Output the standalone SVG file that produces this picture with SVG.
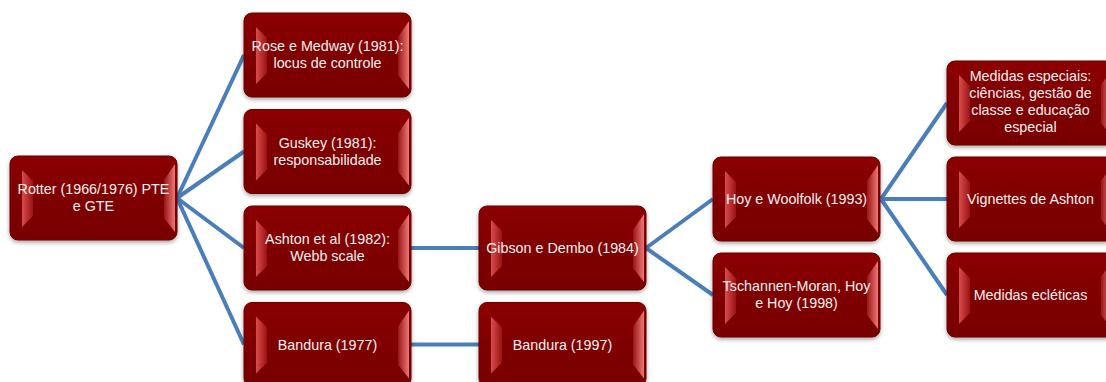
<svg xmlns="http://www.w3.org/2000/svg" xmlns:xlink="http://www.w3.org/1999/xlink" width="1106" height="382" viewBox="0 0 1106 382">
<style>
.lbl{font-family:"Liberation Sans",Arial,sans-serif;font-size:14.3px;fill:#f4f0f0;text-anchor:middle}
.con{stroke:#4a7ebb;stroke-width:4;fill:none;stroke-linecap:butt}
</style>
<defs>
<filter id="sh" x="-10%" y="-10%" width="120%" height="130%">
<feDropShadow dx="0" dy="2" stdDeviation="2" flood-color="#000" flood-opacity="0.35"/>
</filter>
<linearGradient id="gBody" x1="0" y1="0" x2="0" y2="1">
<stop offset="0" stop-color="#8c0606"/>
<stop offset="0.5" stop-color="#7f0000"/>
<stop offset="1" stop-color="#780000"/>
</linearGradient>
<linearGradient id="gL" x1="0" y1="0" x2="1" y2="0">
<stop offset="0" stop-color="#d84c4c"/>
<stop offset="1" stop-color="#9c1212"/>
</linearGradient>
<linearGradient id="gR" x1="0" y1="0" x2="1" y2="0">
<stop offset="0" stop-color="#9a1515"/>
<stop offset="1" stop-color="#ec7878"/>
</linearGradient>
<g id="box">
<rect x="0" y="0" width="167" height="84" rx="8" fill="url(#gBody)" stroke="#6a0000" stroke-width="1" filter="url(#sh)"/>
<polygon points="12,14 23,25 23,60 12,71" fill="url(#gL)"/>
<polygon points="154,24 165,8 165,76 154,62" fill="url(#gR)"/>
</g>
</defs>
<rect width="1106" height="382" fill="#ffffff"/>
<g id="connectors">
<line class="con" x1="177" y1="198" x2="244" y2="55"/>
<line class="con" x1="177" y1="198" x2="244" y2="151.5"/>
<line class="con" x1="177" y1="198" x2="244" y2="248"/>
<line class="con" x1="177" y1="198" x2="244" y2="344.5"/>
<line class="con" x1="411" y1="248" x2="479" y2="248"/>
<line class="con" x1="411" y1="344.5" x2="479" y2="344.5"/>
<line class="con" x1="646" y1="248" x2="713" y2="199"/>
<line class="con" x1="646" y1="248" x2="713" y2="295"/>
<line class="con" x1="881" y1="199" x2="947" y2="103"/>
<line class="con" x1="881" y1="199" x2="947" y2="199"/>
<line class="con" x1="881" y1="199" x2="947" y2="295"/>
</g>
<g id="n-rotter" transform="translate(10,156)"><use xlink:href="#box"/>
<text class="lbl" x="83.5" y="38">Rotter (1966/1976) PTE</text><text class="lbl" x="83.5" y="55">e GTE</text></g>
<g id="n-rose" transform="translate(244,13)"><use xlink:href="#box"/>
<text class="lbl" x="83.5" y="38">Rose e Medway (1981):</text><text class="lbl" x="83.5" y="55">locus de controle</text></g>
<g id="n-guskey" transform="translate(244,109.5)"><use xlink:href="#box"/>
<text class="lbl" x="83.5" y="38">Guskey (1981):</text><text class="lbl" x="83.5" y="55">responsabilidade</text></g>
<g id="n-ashton" transform="translate(244,206)"><use xlink:href="#box"/>
<text class="lbl" x="83.5" y="38">Ashton et al (1982):</text><text class="lbl" x="83.5" y="55">Webb scale</text></g>
<g id="n-bandura77" transform="translate(244,302.5)"><use xlink:href="#box"/>
<text class="lbl" x="83.5" y="47">Bandura (1977)</text></g>
<g id="n-gibson" transform="translate(479,206)"><use xlink:href="#box"/>
<text class="lbl" x="83.5" y="47">Gibson e Dembo (1984)</text></g>
<g id="n-bandura97" transform="translate(479,302.5)"><use xlink:href="#box"/>
<text class="lbl" x="83.5" y="47">Bandura (1997)</text></g>
<g id="n-hoy" transform="translate(713,157)"><use xlink:href="#box"/>
<text class="lbl" x="83.5" y="47">Hoy e Woolfolk (1993)</text></g>
<g id="n-tschannen" transform="translate(713,253)"><use xlink:href="#box"/>
<text class="lbl" x="83.5" y="38">Tschannen-Moran, Hoy</text><text class="lbl" x="83.5" y="55">e Hoy (1998)</text></g>
<g id="n-especiais" transform="translate(947,61)"><use xlink:href="#box"/>
<text class="lbl" x="83.5" y="20">Medidas especiais:</text><text class="lbl" x="83.5" y="37">ciências, gestão de</text><text class="lbl" x="83.5" y="54">classe e educação</text><text class="lbl" x="83.5" y="71">especial</text></g>
<g id="n-vignettes" transform="translate(947,157)"><use xlink:href="#box"/>
<text class="lbl" x="83.5" y="47">Vignettes de Ashton</text></g>
<g id="n-ecleticas" transform="translate(947,253)"><use xlink:href="#box"/>
<text class="lbl" x="83.5" y="47">Medidas ecléticas</text></g>
</svg>
